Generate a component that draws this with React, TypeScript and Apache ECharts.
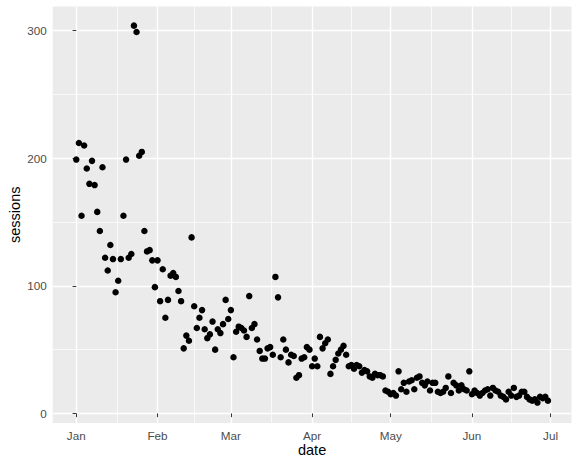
import React, { useEffect, useRef } from "react";
import * as echarts from "echarts";

// Daily sessions, starting 2017-01-01 (x = days since Jan 1)
const sessions: number[] = [
  199, 212, 155, 210, 192, 180, 198, 179, 158, 143,
  193, 122, 112, 132, 121, 95, 104, 121, 155, 199,
  122, 125, 304, 299, 202, 205, 143, 127, 128, 120,
  99, 120, 88, 113, 75, 89, 108, 110, 107, 96,
  88, 51, 61, 57, 138, 84, 67, 75, 81, 66,
  59, 62, 72, 50, 66, 63, 70, 89, 74, 81,
  44, 64, 68, 67, 65, 60, 92, 67, 70, 58,
  49, 43, 43, 51, 52, 46, 107, 91, 44, 58,
  50, 40, 46, 45, 28, 30, 43, 44, 52, 50,
  37, 43, 37, 60, 51, 55, 58, 31, 37, 42,
  47, 50, 53, 46, 37, 38, 35, 38, 37, 32,
  34, 33, 29, 28, 31, 30, 30, 29, 18, 17,
  15, 16, 14, 33, 19, 24, 17, 25, 26, 19,
  28, 29, 24, 22, 25, 18, 24, 24, 17, 16,
  17, 20, 29, 16, 24, 22, 18, 22, 19, 18,
  33, 15, 18, 16, 14, 16, 18, 19, 14, 20,
  18, 17, 14, 13, 11, 17, 14, 20, 13, 14,
  17, 17, 13, 11, 10, 11, 8.5, 13, 12, 13,
  10,
];

const monthTicks: number[] = [0, 31, 59, 90, 120, 151, 181];
const monthLabels: string[] = ["Jan", "Feb", "Mar", "Apr", "May", "Jun", "Jul"];
const minorXTicks: number[] = [15.5, 45, 74.5, 105, 135.5, 166];
const yTicks: number[] = [0, 100, 200, 300];
const minorYTicks: number[] = [50, 150, 250];

const X_MIN = -9;
const X_MAX = 189;
const Y_MIN = -7.5;
const Y_MAX = 319;

const FONT = "'Liberation Sans', Arial, Helvetica, sans-serif";

export default function App() {
  const ref = useRef<HTMLDivElement>(null);
  useEffect(() => {
    if (!ref.current) return;
    const chart = echarts.init(ref.current, undefined, { renderer: "svg" });
    const data = sessions.map((v, i) => [i, v]);
    const hiddenAxisBase = {
      axisLine: { show: false },
      axisLabel: { show: false },
    };
    chart.setOption({
      animation: false,
      backgroundColor: "#FFFFFF",
      textStyle: { fontFamily: FONT },
      grid: {
        left: 52.7,
        top: 6.5,
        width: 518.8,
        height: 416.5,
        show: true,
        backgroundColor: "#EBEBEB",
        borderWidth: 0,
        containLabel: false,
        outerBoundsMode: "none",
      },
      xAxis: [
        {
          type: "value",
          min: X_MIN,
          max: X_MAX,
          name: "date",
          nameLocation: "middle",
          nameGap: 19,
          nameMoveOverlap: false,
          nameTextStyle: { color: "#000000", fontSize: 14.5, fontFamily: FONT, verticalAlign: "top" },
          axisLine: { show: false },
          axisTick: { show: true, length: 3.7, customValues: monthTicks, lineStyle: { color: "#333333", width: 1 } },
          axisLabel: {
            show: true,
            customValues: monthTicks,
            margin: 6,
            color: "#4D4D4D",
            fontSize: 11.7,
            fontFamily: FONT,
            formatter: (v: number) => monthLabels[monthTicks.indexOf(v)] ?? "",
          },
          splitLine: { show: true, lineStyle: { color: "#FFFFFF", width: 1.4 } },
        },
        {
          type: "value",
          min: X_MIN,
          max: X_MAX,
          position: "top",
          ...hiddenAxisBase,
          axisTick: { show: false, customValues: minorXTicks },
          splitLine: { show: true, lineStyle: { color: "#FFFFFF", width: 0.7 } },
        },
      ],
      yAxis: [
        {
          type: "value",
          min: Y_MIN,
          max: Y_MAX,
          name: "sessions",
          nameLocation: "middle",
          nameGap: 30,
          nameRotate: 90,
          nameMoveOverlap: false,
          nameTextStyle: { color: "#000000", fontSize: 14.5, fontFamily: FONT },
          axisLine: { show: false },
          axisTick: { show: true, length: 3.7, customValues: yTicks, lineStyle: { color: "#333333", width: 1 } },
          axisLabel: {
            show: true,
            customValues: yTicks,
            margin: 6,
            color: "#4D4D4D",
            fontSize: 11.7,
            fontFamily: FONT,
          },
          splitLine: { show: true, lineStyle: { color: "#FFFFFF", width: 1.4 } },
        },
        {
          type: "value",
          min: Y_MIN,
          max: Y_MAX,
          position: "right",
          ...hiddenAxisBase,
          axisTick: { show: false, customValues: minorYTicks },
          splitLine: { show: true, lineStyle: { color: "#FFFFFF", width: 0.7 } },
        },
      ],
      series: [
        {
          type: "scatter",
          xAxisIndex: 0,
          yAxisIndex: 0,
          data,
          symbol: "circle",
          symbolSize: 6.5,
          itemStyle: { color: "#000000", opacity: 1 },
          z: 5,
        },
      ],
    });
    return () => chart.dispose();
  }, []);
  return (
    <div
      ref={ref}
      style={{ position: "fixed", left: 0, top: 0, width: 579, height: 463 }}
    />
  );
}
